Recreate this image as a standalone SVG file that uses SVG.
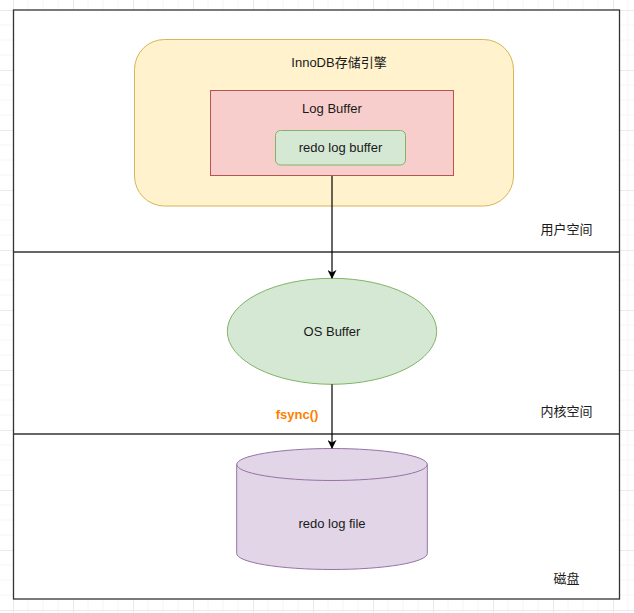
<svg xmlns="http://www.w3.org/2000/svg" width="634" height="613" viewBox="0 0 634 613">
<defs>
<pattern id="grid" x="13" y="10" width="60" height="60" patternUnits="userSpaceOnUse">
<path d="M15 0V60M30 0V60M45 0V60M0 15H60M0 30H60M0 45H60" fill="none" stroke="#f6f6f6" stroke-width="1"/>
<path d="M0.5 0V60M0 0.5H60" fill="none" stroke="#ebebeb" stroke-width="1"/>
</pattern>
<marker id="arr" viewBox="0 0 10 10" refX="9" refY="5" markerWidth="9" markerHeight="9" markerUnits="userSpaceOnUse" orient="auto">
<path d="M0 0L10 5L0 10L3 5Z" fill="#000"/>
</marker>
<style>
text{font-family:"Liberation Sans",Arial,"Noto Sans CJK SC",sans-serif;font-size:13px;fill:#1a1a1a;text-anchor:middle;dominant-baseline:central}
.zone{stroke:#333;stroke-width:1.3}
.edge{fill:none;stroke:#000;stroke-width:1.2}
</style>
</defs>
<rect width="634" height="613" fill="#fff"/>
<rect width="634" height="613" fill="url(#grid)"/>
<g id="zones">
<rect x="13.5" y="10" width="606" height="589" fill="#fff" class="zone"/>
<line x1="13.5" y1="252" x2="619.5" y2="252" class="zone"/>
<line x1="13.5" y1="434" x2="619.5" y2="434" class="zone"/>
<text x="566.5" y="229">用户空间</text>
<text x="566.5" y="411">内核空间</text>
<text x="566.5" y="578">磁盘</text>
</g>
<g id="innodb">
<rect x="134.5" y="39.5" width="379" height="166.5" rx="30" fill="#fff2cc" stroke="#d6b656"/>
<text x="339" y="62">InnoDB存储引擎</text>
</g>
<g id="logbuffer">
<rect x="210.5" y="90.5" width="243" height="85" fill="#f8cecc" stroke="#b85450"/>
<text x="332" y="108">Log Buffer</text>
</g>
<g id="redologbuffer">
<rect x="275.5" y="130.5" width="130" height="34.5" rx="5" fill="#d5e8d4" stroke="#82b366"/>
<text x="340.5" y="147.5">redo log buffer</text>
</g>
<g id="osbuffer">
<ellipse cx="332" cy="331.3" rx="104.7" ry="53" fill="#d5e8d4" stroke="#82b366"/>
<text x="332" y="331">OS Buffer</text>
</g>
<g id="redologfile">
<path d="M236.7 464.5V553.5A95.3 16 0 0 0 427.3 553.5V464.5A95.3 16 0 0 0 236.7 464.5Z" fill="#e1d5e7" stroke="#9673a6"/>
<path d="M236.7 464.5A95.3 16 0 0 0 427.3 464.5" fill="none" stroke="#9673a6"/>
<text x="332" y="523">redo log file</text>
</g>
<g id="connectors">
<line x1="332" y1="176" x2="332" y2="278" class="edge" marker-end="url(#arr)"/>
<line x1="332" y1="384.3" x2="332" y2="448" class="edge" marker-end="url(#arr)"/>
<text x="297" y="414" style="fill:#ff8000;font-weight:bold">fsync()</text>
</g>
</svg>
